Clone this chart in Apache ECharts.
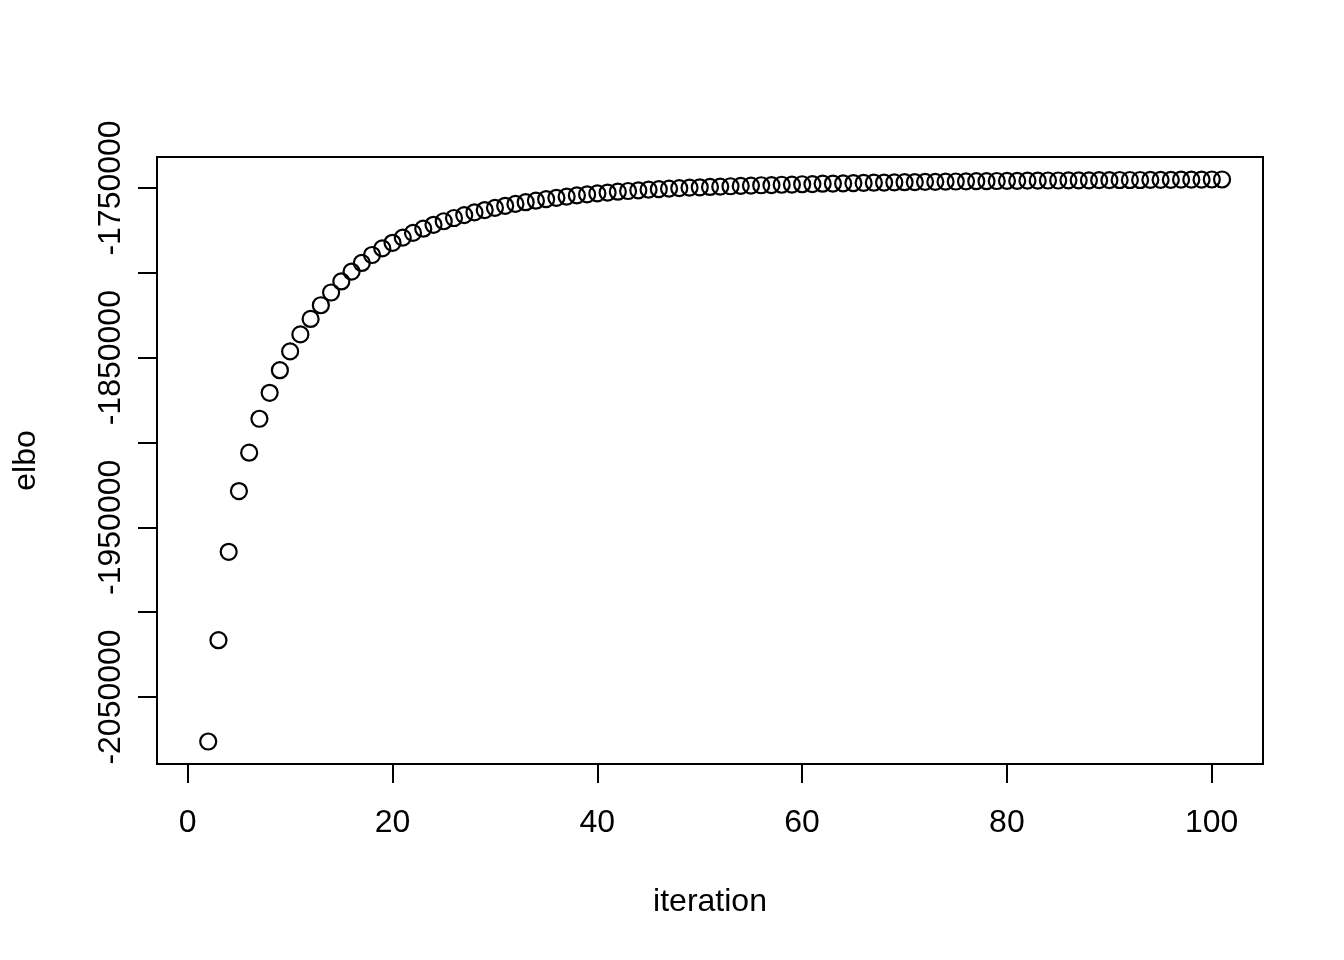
<!DOCTYPE html>
<html>
<head>
<meta charset="utf-8">
<script src="https://cdn.jsdelivr.net/npm/echarts@6/dist/echarts.min.js"></script>
<style>
html,body{margin:0;padding:0;background:#fff;}
#chart{width:1344px;height:960px;}
</style>
</head>
<body>
<div id="chart"></div>
<script>
// ---- data ----
var iterations = [2,3,4,5,6,7,8,9,10,11,12,13,14,15,16,17,18,19,20,21,22,23,24,25,26,27,28,29,30,31,32,33,34,35,36,37,38,39,40,41,42,43,44,45,46,47,48,49,50,51,52,53,54,55,56,57,58,59,60,61,62,63,64,65,66,67,68,69,70,71,72,73,74,75,76,77,78,79,80,81,82,83,84,85,86,87,88,89,90,91,92,93,94,95,96,97,98,99,100,101];
var elbo = [-2076200,-2016500,-1964400,-1928600,-1906000,-1886000,-1870700,-1857400,-1846300,-1836300,
  -1827200,-1819100,-1811600,-1805100,-1799300,-1794200,-1789500,-1785600,-1782300,-1779300,
  -1776500,-1774000,-1771700,-1769600,-1767700,-1766000,-1764400,-1763000,-1761700,-1760500,
  -1759400,-1758400,-1757500,-1756600,-1755800,-1755100,-1754400,-1753800,-1753200,-1752700,
  -1752200,-1751800,-1751400,-1751000,-1750700,-1750400,-1750100,-1749800,-1749600,-1749400,
  -1749200,-1749000,-1748800,-1748600,-1748400,-1748300,-1748100,-1748000,-1747800,-1747700,
  -1747500,-1747400,-1747300,-1747100,-1747000,-1746900,-1746800,-1746700,-1746600,-1746500,
  -1746400,-1746400,-1746300,-1746200,-1746100,-1746000,-1746000,-1745900,-1745800,-1745800,
  -1745700,-1745700,-1745600,-1745600,-1745500,-1745500,-1745500,-1745400,-1745400,-1745300,
  -1745300,-1745300,-1745200,-1745200,-1745200,-1745100,-1745100,-1745100,-1745000,-1745000];
var xTicks = [0, 20, 40, 60, 80, 100];
var yTicks = [-2050000, -2000000, -1950000, -1900000, -1850000, -1800000, -1750000];
var yLabelled = [-2050000, -1950000, -1850000, -1750000];
var xTitle = 'iteration';
var yTitle = 'elbo';

var points = iterations.map(function (it, i) { return [it, elbo[i]]; });

var FONT = "'Liberation Sans', Arial, Helvetica, sans-serif";
var chart = echarts.init(document.getElementById('chart'), null, {renderer: 'canvas'});
chart.setOption({
  backgroundColor: '#ffffff',
  animation: false,
  grid: [
    {left: 157, top: 157, width: 1106, height: 607, show: true, borderColor: '#000', borderWidth: 2, backgroundColor: 'transparent'},
    {left: 187.7, top: 157, width: 1024, height: 607, show: false},
    {left: 157, top: 188, width: 1106, height: 509, show: false}
  ],
  xAxis: [
    {gridIndex: 0, type: 'value', min: -3, max: 105,
     name: xTitle, nameLocation: 'middle', nameGap: 122,
     nameTextStyle: {fontFamily: FONT, fontSize: 32, color: '#000'},
     axisLine: {show: false}, axisTick: {show: false}, axisLabel: {show: false}, splitLine: {show: false}},
    {gridIndex: 1, type: 'value', min: xTicks[0], max: xTicks[xTicks.length - 1], interval: 20, position: 'bottom',
     axisLine: {show: true, lineStyle: {color: '#000', width: 2}},
     axisTick: {show: true, length: 19, lineStyle: {color: '#000', width: 2}},
     axisLabel: {show: true, margin: 43, fontFamily: FONT, fontSize: 32, color: '#000'},
     splitLine: {show: false}},
    {gridIndex: 2, type: 'value', show: false, min: 0, max: 1}
  ],
  yAxis: [
    {gridIndex: 0, type: 'value', min: -2089448, max: -1731752,
     name: yTitle, nameLocation: 'middle', nameGap: 115, nameRotate: 90,
     nameTextStyle: {fontFamily: FONT, fontSize: 32, color: '#000'},
     axisLine: {show: false}, axisTick: {show: false}, axisLabel: {show: false}, splitLine: {show: false}},
    {gridIndex: 1, type: 'value', show: false, min: 0, max: 1},
    {gridIndex: 2, type: 'value', min: yTicks[0], max: yTicks[yTicks.length - 1], interval: 50000, position: 'left',
     axisLine: {show: true, lineStyle: {color: '#000', width: 2}},
     axisTick: {show: true, length: 19, lineStyle: {color: '#000', width: 2}},
     axisLabel: {show: true, rotate: 90, margin: 30, fontFamily: FONT, fontSize: 32, color: '#000',
       formatter: function (v) { return yLabelled.indexOf(v) >= 0 ? String(v) : ''; }},
     splitLine: {show: false}}
  ],
  series: [{
    type: 'scatter',
    xAxisIndex: 0, yAxisIndex: 0,
    data: points,
    symbol: 'circle',
    symbolSize: 16,
    itemStyle: {color: 'transparent', borderColor: '#000', borderWidth: 2.2, opacity: 1},
    emphasis: {disabled: true}
  }]
});
</script>
</body>
</html>
